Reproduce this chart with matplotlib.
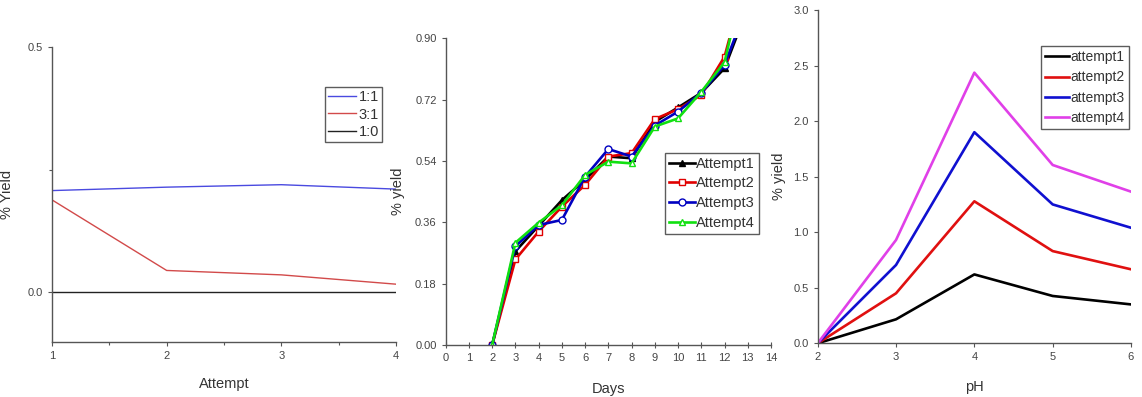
import matplotlib
matplotlib.use("Agg")
import matplotlib.pyplot as plt
from matplotlib.ticker import MultipleLocator

plt.rcParams['font.family'] = ['Liberation Sans', 'DejaVu Sans']

# Panel 1 data
attempts = [1, 2, 3, 4]
p1_labels = ["1:1", "3:1", "1:0"]
p1_11 = [0.207, 0.214, 0.219, 0.210]
p1_31 = [0.188, 0.044, 0.035, 0.016]
p1_10 = [0.0, 0.0, 0.0, 0.0]

# Panel 2 data
days = [2, 3, 4, 5, 6, 7, 8, 9, 10, 11, 12, 13]
att1 = [0.0, 0.275, 0.350, 0.425, 0.485, 0.553, 0.548, 0.655, 0.697, 0.740, 0.812, 0.99]
att2 = [0.0, 0.251, 0.333, 0.406, 0.470, 0.553, 0.563, 0.663, 0.692, 0.734, 0.846, 1.10]
att3 = [0.0, 0.290, 0.352, 0.367, 0.494, 0.575, 0.553, 0.644, 0.685, 0.740, 0.822, 1.00]
att4 = [0.0, 0.300, 0.359, 0.410, 0.499, 0.538, 0.533, 0.641, 0.665, 0.743, 0.830, 1.12]
p2_labels = ["Attempt1", "Attempt2", "Attempt3", "Attempt4"]

# Panel 3 data
ph = [2, 3, 4, 5, 6]
ph_a1 = [0.0, 0.216, 0.620, 0.426, 0.350]
ph_a2 = [0.0, 0.450, 1.278, 0.830, 0.666]
ph_a3 = [0.0, 0.705, 1.900, 1.250, 1.040]
ph_a4 = [0.0, 0.930, 2.436, 1.605, 1.365]
p3_labels = ["attempt1", "attempt2", "attempt3", "attempt4"]

W, H = 1142, 397
fig = plt.figure(figsize=(W / 100, H / 100), dpi=100)

def px_axes(l, r, t, b):
    return fig.add_axes([l / W, (H - b) / H, (r - l) / W, (b - t) / H])

tick_col = "#444444"
spine_col = "#555555"

def style(ax):
    for s in ["top", "right"]:
        ax.spines[s].set_visible(False)
    for s in ["left", "bottom"]:
        ax.spines[s].set_color(spine_col)
        ax.spines[s].set_linewidth(1.0)
    ax.tick_params(colors=spine_col, labelcolor=tick_col, labelsize=8, length=3, width=0.8)
    ax.tick_params(which="minor", colors=spine_col, length=2, width=0.8)

def style_legend(leg):
    leg.get_frame().set_edgecolor("#333333")
    leg.get_frame().set_linewidth(1.0)
    for t in leg.get_texts():
        t.set_color("#333333")

# ---- Panel 1 ----
ax1 = px_axes(52, 396, 47, 342)
style(ax1)
ax1.plot(attempts, p1_11, color="#4a4ae0", lw=1.0, label=p1_labels[0])
ax1.plot(attempts, p1_31, color="#d24a4a", lw=1.0, label=p1_labels[1])
ax1.plot(attempts, p1_10, color="#222222", lw=1.0, label=p1_labels[2])
ax1.set_xlim(1, 4)
ax1.set_ylim(-0.102, 0.5)
ax1.set_xticks(attempts)
ax1.xaxis.set_minor_locator(MultipleLocator(0.5))
ax1.set_yticks([0.0, 0.5])
ax1.set_yticklabels(["0.0", "0.5"])
ax1.yaxis.set_minor_locator(MultipleLocator(0.25))
ax1.set_xlabel("Attempt", fontsize=10.5, color="#333333")
ax1.xaxis.set_label_coords(0.5, -(377 - 342) / 295)
ax1.set_ylabel("% Yield", fontsize=10.5, color="#333333")
ax1.yaxis.set_label_coords((14 - 52) / 344, 0.5)
leg1 = ax1.legend(loc="upper left", bbox_to_anchor=((325 - 52) / 344, (342 - 87) / 295),
                  fontsize=10.5, frameon=True, fancybox=False, handlelength=1.9,
                  borderpad=0.2, labelspacing=0.25, handletextpad=0.2, borderaxespad=0)
style_legend(leg1)

# ---- Panel 2 ----
ax2 = px_axes(445.7, 771, 38.3, 345)
style(ax2)
ax2.plot(days, att1, color="black", lw=1.9, marker="^", ms=5, mfc="black", label=p2_labels[0])
ax2.plot(days, att2, color="#e00000", lw=1.9, marker="s", ms=5, mfc="white", label=p2_labels[1])
ax2.plot(days, att3, color="#0000c0", lw=1.9, marker="o", ms=5, mfc="white", label=p2_labels[2])
ax2.plot(days, att4, color="#10e010", lw=1.9, marker="^", ms=5, mfc="white", label=p2_labels[3])
ax2.set_xlim(0, 14)
ax2.set_ylim(0, 0.9)
ax2.set_xticks(range(0, 15))
ax2.set_yticks([0.0, 0.18, 0.36, 0.54, 0.72, 0.90])
ax2.set_yticklabels(["0.00", "0.18", "0.36", "0.54", "0.72", "0.90"])
ax2.tick_params(axis="x", direction="inout", length=5)
ax2.set_xlabel("Days", fontsize=10.5, color="#333333")
ax2.xaxis.set_label_coords(0.5, -(382 - 345) / 306.7)
ax2.set_ylabel("% yield", fontsize=10.5, color="#333333")
ax2.yaxis.set_label_coords((405 - 445.7) / 325.3, 0.5)
leg2 = ax2.legend(loc="upper left", bbox_to_anchor=((665 - 445.7) / 325.3, (345 - 153) / 306.7),
                  fontsize=10.5, frameon=True, fancybox=False, handlelength=1.8,
                  borderpad=0.25, labelspacing=0.4, handletextpad=0.1, borderaxespad=0)
style_legend(leg2)

# ---- Panel 3 ----
ax3 = px_axes(817.7, 1131, 10, 343.3)
style(ax3)
ax3.plot(ph, ph_a1, color="black", lw=1.9, label=p3_labels[0])
ax3.plot(ph, ph_a2, color="#e01010", lw=1.9, label=p3_labels[1])
ax3.plot(ph, ph_a3, color="#1010d0", lw=1.9, label=p3_labels[2])
ax3.plot(ph, ph_a4, color="#e040e8", lw=1.9, label=p3_labels[3])
ax3.set_xlim(2, 6)
ax3.set_ylim(0, 3.0)
ax3.set_xticks(ph)
ax3.set_yticks([0.0, 0.5, 1.0, 1.5, 2.0, 2.5, 3.0])
ax3.set_yticklabels(["0.0", "0.5", "1.0", "1.5", "2.0", "2.5", "3.0"])
ax3.set_xlabel("pH", fontsize=10.5, color="#333333")
ax3.xaxis.set_label_coords(0.5, -(380 - 343.3) / 333.3)
ax3.set_ylabel("% yield", fontsize=10.5, color="#333333")
ax3.yaxis.set_label_coords((786 - 817.7) / 313.3, 0.5)
leg3 = ax3.legend(loc="upper left", bbox_to_anchor=((1041 - 817.7) / 313.3, (343.3 - 46) / 333.3),
                  fontsize=10, frameon=True, fancybox=False, handlelength=1.7,
                  borderpad=0.3, labelspacing=0.45, handletextpad=0.1, borderaxespad=0)
style_legend(leg3)

fig.savefig("out.png", dpi=100, facecolor="white")
